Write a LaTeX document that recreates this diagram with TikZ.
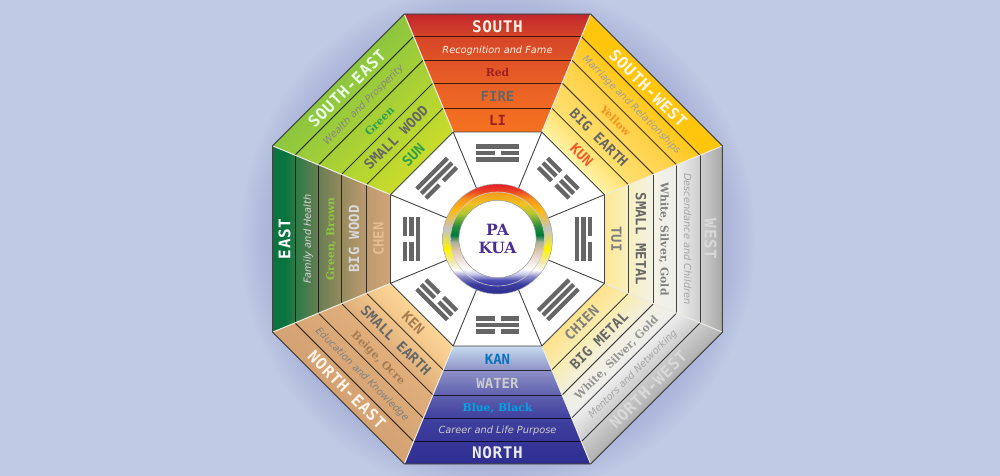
\documentclass[tikz,border=0pt]{standalone}
\usepackage{fontspec}
\setmainfont{DejaVu Sans}
\newfontfamily\hdfont{DejaVu Sans Mono}[LetterSpace=4]
\newfontfamily\upfont{DejaVu Sans Mono}
\newfontfamily\sfit{DejaVu Sans}
\newfontfamily\srf{DejaVu Serif}
\usetikzlibrary{calc}
\definecolor{bgc}{HTML}{BFCBE4}
\definecolor{glow}{HTML}{A9B2D8}
\definecolor{edgec}{HTML}{444444}
\definecolor{sepc}{HTML}{ECECE4}
\definecolor{barc}{HTML}{666666}
\definecolor{pakua}{HTML}{4B2E92}
\definecolor{tred}{HTML}{9E1F1F}
\definecolor{tgreen}{HTML}{2FA04A}
\definecolor{tlime}{HTML}{8DC63F}
\definecolor{tkan}{HTML}{0B72BE}
\definecolor{tblue}{HTML}{00A3E0}
\definecolor{tkun}{HTML}{F15A29}
\definecolor{tyel}{HTML}{F7941D}
\definecolor{tbei}{HTML}{A67C52}
\pgfdeclareradialshading{halo}{\pgfpoint{0bp}{0bp}}{
 color(0bp)=(glow); color(21.6bp)=(glow); color(23.2bp)=(glow!55!bgc); color(25bp)=(bgc); color(50bp)=(bgc)}
% radial gradients: 25bp = inner octagon edge, 75bp = outer edge
\pgfdeclareverticalshading{gS}{100bp}{
 color(0bp)=(rgb,255:red,244;green,115;blue,32); color(25bp)=(rgb,255:red,244;green,115;blue,32);
 color(45.8bp)=(rgb,255:red,233;green,95;blue,38); color(65.3bp)=(rgb,255:red,214;green,70;blue,40);
 color(75bp)=(rgb,255:red,193;green,39;blue,45); color(100bp)=(rgb,255:red,193;green,39;blue,45)}
\pgfdeclareverticalshading{gSE}{100bp}{
 color(0bp)=(rgb,255:red,201;green,220;blue,43); color(25bp)=(rgb,255:red,201;green,220;blue,43);
 color(75bp)=(rgb,255:red,140;green,198;blue,63); color(100bp)=(rgb,255:red,140;green,198;blue,63)}
\pgfdeclareverticalshading{gSW}{100bp}{
 color(0bp)=(rgb,255:red,255;green,244;blue,168); color(25bp)=(rgb,255:red,255;green,244;blue,168);
 color(35bp)=(rgb,255:red,255;green,224;blue,112); color(55.5bp)=(rgb,255:red,255;green,208;blue,69);
 color(68bp)=(rgb,255:red,255;green,198;blue,11); color(100bp)=(rgb,255:red,255;green,198;blue,11)}
\pgfdeclareverticalshading{gE}{100bp}{
 color(0bp)=(rgb,255:red,209;green,165;blue,118); color(25bp)=(rgb,255:red,209;green,165;blue,118);
 color(35.2bp)=(rgb,255:red,189;green,154;blue,110); color(45.8bp)=(rgb,255:red,149;green,138;blue,96);
 color(55.5bp)=(rgb,255:red,104;green,125;blue,82); color(65.3bp)=(rgb,255:red,44;green,122;blue,72);
 color(69.5bp)=(rgb,255:red,10;green,116;blue,64); color(100bp)=(rgb,255:red,8;green,114;blue,64)}
\pgfdeclareverticalshading{gW}{100bp}{
 color(0bp)=(rgb,255:red,253;green,232;blue,146); color(25bp)=(rgb,255:red,253;green,232;blue,146);
 color(35.2bp)=(rgb,255:red,248;green,240;blue,192); color(45.8bp)=(rgb,255:red,242;green,242;blue,230);
 color(55.5bp)=(rgb,255:red,238;green,238;blue,238); color(65.3bp)=(rgb,255:red,207;green,207;blue,207);
 color(75bp)=(rgb,255:red,168;green,168;blue,168); color(100bp)=(rgb,255:red,168;green,168;blue,168)}
\pgfdeclareverticalshading{gNW}{100bp}{
 color(0bp)=(rgb,255:red,253;green,226;blue,138); color(25bp)=(rgb,255:red,253;green,226;blue,138);
 color(35.2bp)=(rgb,255:red,248;green,236;blue,176); color(45.8bp)=(rgb,255:red,242;green,240;blue,224);
 color(55.5bp)=(rgb,255:red,237;green,237;blue,237); color(65.3bp)=(rgb,255:red,204;green,204;blue,204);
 color(75bp)=(rgb,255:red,176;green,176;blue,176); color(100bp)=(rgb,255:red,176;green,176;blue,176)}
\pgfdeclareverticalshading{gN}{100bp}{
 color(0bp)=(rgb,255:red,199;green,219;blue,239); color(25bp)=(rgb,255:red,199;green,219;blue,239);
 color(35.2bp)=(rgb,255:red,142;green,146;blue,198); color(45.8bp)=(rgb,255:red,94;green,96;blue,174);
 color(55.5bp)=(rgb,255:red,64;green,64;blue,159); color(75bp)=(rgb,255:red,46;green,45;blue,145);
 color(100bp)=(rgb,255:red,46;green,45;blue,145)}
\pgfdeclareverticalshading{gNE}{100bp}{
 color(0bp)=(rgb,255:red,253;green,215;blue,150); color(25bp)=(rgb,255:red,253;green,215;blue,150);
 color(35.2bp)=(rgb,255:red,240;green,196;blue,138); color(45.8bp)=(rgb,255:red,223;green,174;blue,123);
 color(75bp)=(rgb,255:red,212;green,162;blue,115); color(100bp)=(rgb,255:red,212;green,162;blue,115)}
% ring gradients
\pgfdeclareverticalshading{ringO}{100bp}{
 color(0bp)=(rgb,255:red,46;green,45;blue,145); color(25bp)=(rgb,255:red,46;green,45;blue,145);
 color(29.5bp)=(rgb,255:red,60;green,60;blue,158); color(33.2bp)=(rgb,255:red,144;green,144;blue,204);
 color(35.9bp)=(rgb,255:red,255;green,255;blue,255); color(39.5bp)=(rgb,255:red,240;green,232;blue,176);
 color(45.5bp)=(rgb,255:red,255;green,242;blue,0); color(54.5bp)=(rgb,255:red,196;green,196;blue,196);
 color(63.2bp)=(rgb,255:red,253;green,185;blue,19); color(68.2bp)=(rgb,255:red,247;green,148;blue,29);
 color(72.3bp)=(rgb,255:red,234;green,58;blue,37); color(75bp)=(rgb,255:red,228;green,32;blue,42);
 color(100bp)=(rgb,255:red,228;green,32;blue,42)}
\pgfdeclareverticalshading{ringI}{100bp}{
 color(0bp)=(rgb,255:red,48;green,48;blue,160); color(25bp)=(rgb,255:red,48;green,48;blue,160);
 color(28.2bp)=(rgb,255:red,80;green,80;blue,176); color(31.4bp)=(rgb,255:red,200;green,200;blue,234);
 color(34bp)=(rgb,255:red,255;green,255;blue,255); color(39.9bp)=(rgb,255:red,236;green,220;blue,212);
 color(45.2bp)=(rgb,255:red,214;green,190;blue,160); color(48.4bp)=(rgb,255:red,168;green,176;blue,152);
 color(52.1bp)=(rgb,255:red,0;green,122;blue,61); color(56.9bp)=(rgb,255:red,42;green,140;blue,60);
 color(63.8bp)=(rgb,255:red,180;green,200;blue,50); color(68.6bp)=(rgb,255:red,240;green,192;blue,32);
 color(75bp)=(rgb,255:red,247;green,154;blue,27); color(100bp)=(rgb,255:red,247;green,154;blue,27)}
\tikzset{
 x=1pt,y=1pt,
 lab/.style={inner sep=0pt,outer sep=0pt,anchor=center,text depth=0pt},
 hd/.style={lab,text height=11.7pt,font=\hdfont\fontsize{16}{16}\selectfont\bfseries},
 itt/.style={lab,text height=7.6pt,font=\sfit\fontsize{9.8}{11}\selectfont\itshape},
 clr/.style={lab,text height=8.8pt,font=\srf\fontsize{10.8}{12}\selectfont\bfseries},
 upp/.style={lab,text height=10.2pt,font=\upfont\fontsize{14}{14}\selectfont\bfseries},
 bandline/.style={draw=black,draw opacity=.72,line width=.9pt},
 spoke/.style={draw=edgec,line width=.9pt},
 bar/.style={fill=barc,draw=none}
}
% \sector{shading}{local rotation}
\newcommand{\sector}[2]{%
 \begin{scope}[transform canvas={shift={(497.5,236)},rotate=#2}]
  \begin{scope}
   \clip (-93.2,225) -- (93.2,225) -- (44.3,107) -- (-44.3,107) -- cycle;
   \shade[shading=#1] (-100,107) rectangle (100,225);
  \end{scope}
  \foreach \d in {202.5,179,156,131}
   \draw[bandline] ({-0.4142*\d},\d) -- ({0.4142*\d},\d);
 \end{scope}}
% \trig{sector angle}{outer}{middle}{inner}
\newcommand{\onebar}[2]{% offset, solid?
 \ifnum#2=1
  \fill[bar] (-21.6,{86+#1-2.1}) rectangle (21.6,{86+#1+2.1});
 \else
  \fill[bar] (-21.6,{86+#1-2.1}) rectangle (-3,{86+#1+2.1});
  \fill[bar] (3,{86+#1-2.1}) rectangle (21.6,{86+#1+2.1});
 \fi}
\newcommand{\trig}[4]{%
 \begin{scope}[shift={(497.5,236)},rotate=#1-90]
  \onebar{6.5}{#2}\onebar{0}{#3}\onebar{-6.5}{#4}
 \end{scope}}
\newcommand{\lab}[7]{% name, sector angle, rotation, distance, style, colour, text
 \node[#5,text=#6,rotate=#3] (#1) at ($(497.5,236)+(#2:#4)$) {#7};}
\begin{document}
\begin{tikzpicture}
\useasboundingbox (0,0) rectangle (1000,475);
\fill[bgc] (-5,-5) rectangle (1005,480);
\shade[shading=halo] (497.5,236) circle[radius=260];
% sectors
\sector{gS}{0}
\sector{gSE}{45}
\sector{gE}{90}
\sector{gNE}{135}
\sector{gN}{180}
\sector{gNW}{225}
\sector{gW}{270}
\sector{gSW}{315}
% coordinates of the corners
\coordinate (C) at (497.5,236);
\foreach \i/\a in {1/22.5,2/67.5,3/112.5,4/157.5,5/202.5,6/247.5,7/292.5,8/337.5}{
 \coordinate (O\i) at ($(C)+(\a:243.5)$);
 \coordinate (I\i) at ($(C)+(\a:115.8)$);
 \coordinate (R\i) at ($(C)+(\a:55)$);
}
% separators between the sectors
\foreach \i in {1,...,8}
 \draw[draw=sepc,line width=1pt] (I\i) -- (O\i);
% outline
\draw[draw=edgec,line width=1pt,line join=miter] (O1)--(O2)--(O3)--(O4)--(O5)--(O6)--(O7)--(O8)--cycle;
% inner octagon
\filldraw[fill=white,spoke] (I1)--(I2)--(I3)--(I4)--(I5)--(I6)--(I7)--(I8)--cycle;
\foreach \i in {1,...,8}
 \draw[spoke] (I\i) -- (R\i);
% trigrams (outer, middle, inner bar)
\trig{90}{1}{0}{1}
\trig{135}{1}{1}{0}
\trig{180}{0}{0}{1}
\trig{225}{1}{0}{0}
\trig{270}{0}{1}{0}
\trig{315}{1}{1}{1}
\trig{0}{0}{1}{1}
\trig{45}{0}{0}{0}
% ring
\shade[shading=ringO] (C) circle[radius=55];
\draw[draw=black!35,line width=.5pt] (C) circle[radius=55];
\shade[shading=ringI] (C) circle[radius=47];
\draw[draw=white!80!black,line width=.6pt] (C) circle[radius=47];
\filldraw[fill=white,draw=black!40,line width=.5pt] (C) circle[radius=38.6];
\node[lab,text height=11pt,text=pakua,font=\srf\fontsize{15.5}{16}\selectfont\bfseries] (pa) at (497.5,245.5) {PA};
\node[lab,text height=11pt,text=pakua,font=\srf\fontsize{15.5}{16}\selectfont\bfseries] (kua) at (497.5,227) {KUA};
% labels: south
\lab{s1}{90}{0}{212.5}{hd}{white!90!orange}{SOUTH}
\lab{s2}{90}{0}{189.5}{itt}{white!90!orange}{Recognition and Fame}
\lab{s3}{90}{0}{167}{clr}{tred}{Red}
\lab{s4}{90}{0}{142.5}{upp}{barc}{FIRE}
\lab{s5}{90}{0}{118.2}{upp}{tred}{LI}
% south-east
\lab{se1}{135}{45}{213}{hd}{white!92!green}{SOUTH-EAST}
\lab{se2}{135}{45}{190.5}{itt}{black!48}{Wealth and Prosperity}
\lab{se3}{135}{45}{167.5}{clr}{tgreen}{Green}
\lab{se4}{135}{45}{143.5}{upp}{barc}{SMALL WOOD}
\lab{se5}{135}{45}{119}{upp}{tgreen}{SUN}
% east
\lab{e1}{180}{90}{213}{hd}{white}{EAST}
\lab{e2}{180}{90}{190.5}{itt}{white!85!black}{Family and Health}
\lab{e3}{180}{90}{167.5}{clr}{tlime}{Green, Brown}
\lab{e4}{180}{90}{143.5}{upp}{white!85!black}{BIG WOOD}
\lab{e5}{180}{90}{119}{upp}{orange!35!white!90!black}{CHEN}
% north-east
\lab{ne1}{225}{-45}{213}{hd}{white!92!orange}{NORTH-EAST}
\lab{ne2}{225}{-45}{190.5}{itt}{black!50}{Education and Knowledge}
\lab{ne3}{225}{-45}{167.5}{clr}{tbei}{Beige, Ocre}
\lab{ne4}{225}{-45}{143.5}{upp}{barc}{SMALL EARTH}
\lab{ne5}{225}{-45}{119}{upp}{tbei}{KEN}
% north
\lab{n1}{270}{0}{214}{hd}{white!92!black}{NORTH}
\lab{n2}{270}{0}{191}{itt}{white!80!black}{Career and Life Purpose}
\lab{n3}{270}{0}{168.5}{clr}{tblue}{Blue, Black}
\lab{n4}{270}{0}{144.7}{upp}{white!80!black}{WATER}
\lab{n5}{270}{0}{120.5}{upp}{tkan}{KAN}
% north-west
\lab{nw1}{315}{45}{213}{hd}{white!85!black}{NORTH-WEST}
\lab{nw2}{315}{45}{190.5}{itt}{black!35}{Mentors and Networking}
\lab{nw3}{315}{45}{167.5}{clr}{black!42}{White, Silver, Gold}
\lab{nw4}{315}{45}{143.5}{upp}{barc}{BIG METAL}
\lab{nw5}{315}{45}{119}{upp}{black!50}{CHIEN}
% west
\lab{w1}{0}{-90}{213}{hd}{white!85!black}{WEST}
\lab{w2}{0}{-90}{190.5}{itt}{black!35}{Descendance and Children}
\lab{w3}{0}{-90}{167.5}{clr}{black!50}{White, Silver, Gold}
\lab{w4}{0}{-90}{143.5}{upp}{barc}{SMALL METAL}
\lab{w5}{0}{-90}{119}{upp}{black!50}{TUI}
% south-west
\lab{sw1}{45}{-45}{213}{hd}{white!93!orange}{SOUTH-WEST}
\lab{sw2}{45}{-45}{190.5}{itt}{black!38}{Marriage and Relationships}
\lab{sw3}{45}{-45}{167.5}{clr}{tyel}{Yellow}
\lab{sw4}{45}{-45}{143.5}{upp}{barc}{BIG EARTH}
\lab{sw5}{45}{-45}{119}{upp}{tkun}{KUN}
\end{tikzpicture}
\end{document}
